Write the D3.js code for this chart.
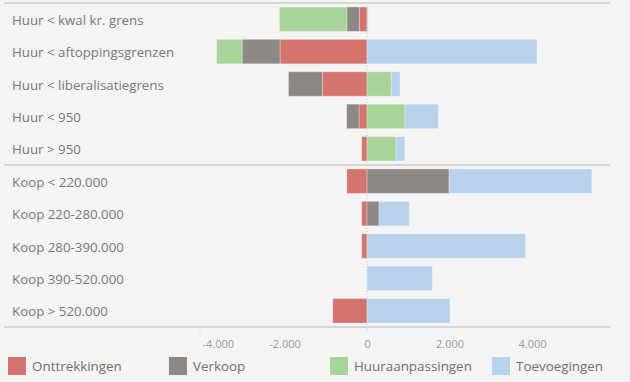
<!DOCTYPE html>
<html>
<head>
<meta charset="utf-8">
<script src="https://cdn.jsdelivr.net/npm/d3@7"></script>
<style>
  html, body { margin: 0; padding: 0; background: #f4f4f4; }
  svg { display: block; }
</style>
</head>
<body>
<svg id="chart" width="630" height="382"></svg>
<script>
// ---- data ----
const categories = [
  "Huur < kwal kr. grens",
  "Huur < aftoppingsgrenzen",
  "Huur < liberalisatiegrens",
  "Huur < 950",
  "Huur > 950",
  "Koop < 220.000",
  "Koop 220-280.000",
  "Koop 280-390.000",
  "Koop 390-520.000",
  "Koop > 520.000"
];
const seriesNames = ["Onttrekkingen", "Verkoop", "Huuraanpassingen", "Toevoegingen"];
const onttrekkingen    = [-190, -2110, -1080, -195, -130, -490, -130, -130,    0, -830];
const verkoop          = [-300,  -920,  -825, -300,    0, 1990,  290,    0,    0,    0];
const huuraanpassingen = [-1635, -615,   590,  920,  705,    0,    0,    0,    0,    0];
const toevoegingen     = [  30,  4120,   210,  810,  210, 3460,  735, 3840, 1585, 2010];
const tickValues = [-4000, -2000, 0, 2000, 4000];
const tickLabels = ["-4.000", "-2.000", "0", "2.000", "4.000"];
const colors = ["#d4746f", "#8d8884", "#a8d49a", "#b7d2ea"];

// ---- build table ----
const seriesArrays = [onttrekkingen, verkoop, huuraanpassingen, toevoegingen];
const table = categories.map((c, i) => {
  const row = { cat: c };
  seriesNames.forEach((s, j) => row[s] = seriesArrays[j][i]);
  return row;
});

const stack = d3.stack()
  .keys(seriesNames)
  .order(d3.stackOrderNone)
  .offset(d3.stackOffsetDiverging);
const stacked = stack(table);

const svg = d3.select("#chart");
const font = "'Open Sans', 'Noto Sans', sans-serif";

const x = d3.scaleLinear().domain([-4050, 5890]).range([200, 610]);
const y = d3.scaleBand().domain(categories).range([3, 327]).paddingInner(0.245).paddingOuter(0.122);
const color = d3.scaleOrdinal().domain(seriesNames).range(colors);

// zero dotted line
svg.append("line")
  .attr("x1", x(0)).attr("x2", x(0))
  .attr("y1", 3).attr("y2", 327)
  .attr("stroke", "#c8c8c8").attr("stroke-width", 1)
  .attr("stroke-dasharray", "1,2");

// bars
svg.append("g").selectAll("g")
  .data(stacked)
  .join("g")
  .attr("fill", d => color(d.key))
  .selectAll("rect")
  .data(d => d.filter(p => p[1] !== p[0]).map(p => ({ p, cat: p.data.cat })))
  .join("rect")
  .attr("x", d => x(Math.min(d.p[0], d.p[1])))
  .attr("width", d => Math.abs(x(d.p[1]) - x(d.p[0])))
  .attr("y", d => y(d.cat))
  .attr("height", y.bandwidth())
  .attr("stroke", "rgba(255,255,255,0.3)")
  .attr("stroke-width", 1);

// horizontal separators
[3, 165, 327].forEach(yy => {
  svg.append("line")
    .attr("x1", 4).attr("x2", 610)
    .attr("y1", yy).attr("y2", yy)
    .attr("stroke", "#d6d6d6").attr("stroke-width", 2);
});

// category labels
svg.append("g").selectAll("text")
  .data(categories)
  .join("text")
  .attr("x", 12)
  .attr("y", d => y(d) + y.bandwidth() / 2 + 1)
  .attr("dy", "0.35em")
  .attr("font-family", font)
  .attr("font-size", 13.3)
  .attr("fill", "#787878")
  .text(d => d);

// x axis
const axisG = svg.append("g").attr("transform", "translate(0,328)");
const axis = d3.axisBottom(x).tickValues(tickValues).tickSize(0)
  .tickFormat((d, i) => tickLabels[i]);
axisG.call(axis);
axisG.select(".domain").remove();
axisG.selectAll("text")
  .attr("y", 20)
  .attr("dy", "0")
  .attr("font-family", font)
  .attr("font-size", 11)
  .attr("fill", "#9a9a9a")
  .attr("text-anchor", d => (x(d) - 17 < 200 ? "start" : "middle"));
// faint ticks
[200, x(0)].forEach(xx => {
  svg.append("line").attr("x1", xx).attr("x2", xx).attr("y1", 328).attr("y2", 333)
    .attr("stroke", "#e0e0e0").attr("stroke-width", 1);
});

// legend
const legendX = [8, 169, 330, 492];
const lg = svg.append("g").selectAll("g")
  .data(seriesNames)
  .join("g")
  .attr("transform", (d, i) => `translate(${legendX[i]},357)`);
lg.append("rect")
  .attr("width", 18).attr("height", 18)
  .attr("fill", d => color(d));
lg.append("text")
  .attr("x", 24).attr("y", 14)
  .attr("font-family", font)
  .attr("font-size", 13.4)
  .attr("fill", "#6f6f6f")
  .text(d => d);
</script>
</body>
</html>
